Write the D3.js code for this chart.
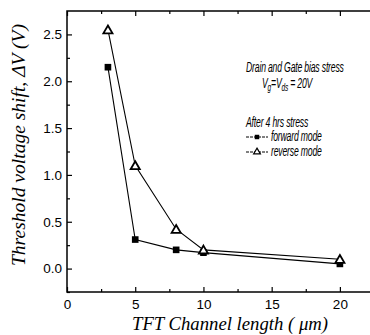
<!DOCTYPE html>
<html>
<head>
<meta charset="utf-8">
<script src="https://cdn.jsdelivr.net/npm/d3@7"></script>
<style>
body{margin:0;background:#fff;overflow:hidden}
.tick text{font-family:"Liberation Sans",Arial,sans-serif;font-size:13.5px;fill:#000}
.note{font-family:"Liberation Sans",Arial,sans-serif;font-style:italic;font-size:14px;letter-spacing:-0.3px}
.title{font-family:"Liberation Serif","DejaVu Serif",serif;font-style:italic;font-size:18px}
</style>
</head>
<body>
<script>
const lengths=[3,5,8,10,20]
const forward=[2.15,0.31,0.2,0.17,0.05]
const reverse=[2.55,1.1,0.42,0.2,0.1]
const xTicks=[0,5,10,15,20]
const yTicks=[0.0,0.5,1.0,1.5,2.0,2.5]
const w=370, h=335
const padL=67, padR=374, padT=11, padB=292

const svg=d3.select("body").append("svg")
  .attr("width",w).attr("height",h)

const x=d3.scaleLinear().domain([0,22.5]).range([padL,padR])
const y=d3.scaleLinear().domain([-0.25,2.75]).range([padB,padT])

// frame
svg.append("rect")
  .attr("x",padL).attr("y",padT)
  .attr("width",padR-padL).attr("height",padB-padT)
  .attr("fill","none").attr("stroke","#000").attr("stroke-width",1.5)

const minorX=d3.range(2.5,22.5,5)
const minorY=d3.range(-0.25,2.75,0.5)

svg.append("g")
  .attr("transform","translate(0,"+padB+")")
  .call(d3.axisBottom(x).tickValues(xTicks).tickSize(-5).tickPadding(7).tickFormat(d3.format("d")))
  .call(g=>g.select(".domain").remove())
svg.append("g")
  .attr("transform","translate(0,"+padB+")")
  .call(d3.axisBottom(x).tickValues(minorX).tickSize(-3).tickFormat(""))
  .call(g=>g.select(".domain").remove())
svg.append("g")
  .attr("transform","translate(0,"+padT+")")
  .call(d3.axisTop(x).tickValues(xTicks).tickSize(-5).tickFormat(""))
  .call(g=>g.select(".domain").remove())
svg.append("g")
  .attr("transform","translate(0,"+padT+")")
  .call(d3.axisTop(x).tickValues(minorX).tickSize(-3).tickFormat(""))
  .call(g=>g.select(".domain").remove())
svg.append("g")
  .attr("transform","translate("+padL+",0)")
  .call(d3.axisLeft(y).tickValues(yTicks).tickSize(-5).tickPadding(5).tickFormat(d3.format(".1f")))
  .call(g=>g.select(".domain").remove())
svg.append("g")
  .attr("transform","translate("+padL+",0)")
  .call(d3.axisLeft(y).tickValues(minorY).tickSize(-3).tickFormat(""))
  .call(g=>g.select(".domain").remove())
svg.selectAll(".tick line").attr("stroke","#000").attr("stroke-width",1.2)

const line=d3.line().x((d,i)=>x(lengths[i])).y(d=>y(d))

svg.append("path").datum(forward).attr("d",line)
  .attr("fill","none").attr("stroke","#000").attr("stroke-width",1.1)
svg.append("path").datum(reverse).attr("d",line)
  .attr("fill","none").attr("stroke","#000").attr("stroke-width",1.1)

const sq=d3.symbol().type(d3.symbolSquare).size(44)
const tri=d3.symbol().type(d3.symbolTriangle).size(36)

svg.selectAll(".fw").data(forward).enter().append("path")
  .attr("class","fw").attr("d",sq)
  .attr("transform",(d,i)=>"translate("+x(lengths[i])+","+y(d)+")")
  .attr("fill","#000")
svg.selectAll(".rv").data(reverse).enter().append("path")
  .attr("class","rv").attr("d",tri)
  .attr("transform",(d,i)=>"translate("+x(lengths[i])+","+(y(d)+1)+")")
  .attr("fill","#fff").attr("stroke","#000").attr("stroke-width",1.8)

// annotations, condensed type
const sx=0.62
const note=svg.append("g").attr("class","note")
  .attr("transform","translate(246,0) scale("+sx+",1)")
const nx=v=>(v-246)/sx
note.append("text").attr("x",nx(246)).attr("y",72).text("Drain and Gate bias stress")
const vg=note.append("text").attr("x",nx(262)).attr("y",88)
vg.append("tspan").text("V")
vg.append("tspan").attr("dy",3).attr("font-size",10.5).text("g")
vg.append("tspan").attr("dy",-3).text("=V")
vg.append("tspan").attr("dy",3).attr("font-size",10.5).text("ds")
vg.append("tspan").attr("dy",-3).text(" = 20V")
note.append("text").attr("x",nx(246)).attr("y",127).text("After 4 hrs stress")

const legend=[{name:"forward mode",fill:"#000",y:141},{name:"reverse mode",fill:"#fff",y:156}]
legend.forEach(l=>{
  svg.append("line").attr("x1",246).attr("x2",268).attr("y1",l.y-4).attr("y2",l.y-4)
    .attr("stroke","#000").attr("stroke-width",1).attr("stroke-dasharray","3,1")
  const s=l.fill=="#000"?d3.symbol().type(d3.symbolSquare).size(20):d3.symbol().type(d3.symbolTriangle).size(20)
  svg.append("path").attr("d",s)
    .attr("transform","translate(257,"+(l.y-4)+")")
    .attr("fill",l.fill).attr("stroke","#000").attr("stroke-width",l.fill=="#000"?0:1.2)
  note.append("text").attr("x",nx(271)).attr("y",l.y).text(l.name)
})

// axis titles
svg.append("text").attr("class","title")
  .attr("x",132).attr("y",330)
  .attr("textLength",196).attr("lengthAdjust","spacingAndGlyphs")
  .text("TFT Channel length (\u00a0\u03bcm)")
svg.append("text").attr("class","title")
  .attr("transform","translate(25,266) rotate(-90)")
  .attr("textLength",242).attr("lengthAdjust","spacingAndGlyphs")
  .text("Threshold voltage shift,  \u0394V (V)")
</script>
</body>
</html>
